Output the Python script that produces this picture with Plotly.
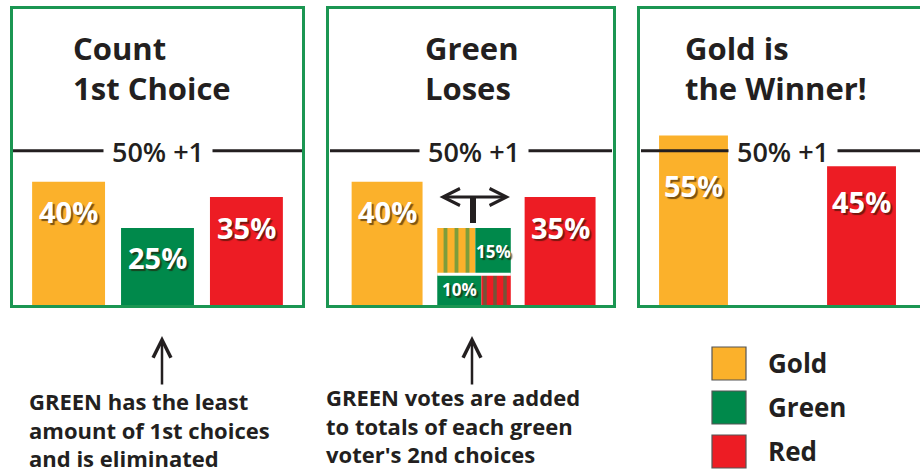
import plotly.graph_objects as go

W, H = 920, 472

# ---------------- data ----------------
parties = ["Gold", "Green", "Red"]
party_colors = ["#FBB12B", "#00894B", "#ED1C24"]
first_choice = [40, 25, 35]            # panel 1: Gold, Green, Red
round2_parties = ["Gold", "Red"]
round2_values = [40, 35]               # panel 2 (before transfer)
green_to_gold = 15                     # green votes whose 2nd choice is Gold
green_to_red = 10                      # green votes whose 2nd choice is Red
final_parties = ["Gold", "Red"]
final_values = [55, 45]                # panel 3
threshold = 50
threshold_label = "50% +1"
titles = ["Count<br>1st Choice", "Green<br>Loses", "Gold is<br>the Winner!"]
captions = ["GREEN has the least<br>amount of 1st choices<br>and is eliminated",
            "GREEN votes are added<br>to totals of each green<br>voter's 2nd choices"]

# ---------------- style ----------------
DARK = "#231F20"
BORDER = "#1B9652"
FONT = "Open Sans"
col = dict(zip(parties, party_colors))
pos = {p: i for i, p in enumerate(parties)}


def fx(px):
    return px / W


def fy(py):
    return 1 - py / H


BAR_W = 0.82
Y_RANGE = [0, 96]
ydom = [fy(305), fy(9)]
xdoms = [[fx(13), fx(302)], [fx(330), fx(612)], [fx(641), 1.0]]
xranges = [[-0.625, 2.625], [-0.66, 2.6], [-0.625, 2.696]]
label_xshift = [0, 0, 5]

fig = go.Figure()

# panel 1
fig.add_trace(go.Bar(x=[pos[p] for p in parties], y=first_choice,
                     marker=dict(color=[col[p] for p in parties], line=dict(width=0)),
                     width=BAR_W, xaxis="x", yaxis="y", showlegend=False, hoverinfo="skip"))
# panel 2
fig.add_trace(go.Bar(x=[pos[p] for p in round2_parties], y=round2_values,
                     marker=dict(color=[col[p] for p in round2_parties], line=dict(width=0)),
                     width=BAR_W, xaxis="x2", yaxis="y2", showlegend=False, hoverinfo="skip"))
gx = pos["Green"]
piece_left = -0.42
# bottom piece (green -> red): solid green left, red/green striped right
fig.add_trace(go.Bar(x=[gx], y=[green_to_red], base=[0], offset=piece_left, width=0.51,
                     marker=dict(color=col["Green"], line=dict(width=0)),
                     xaxis="x2", yaxis="y2", showlegend=False, hoverinfo="skip"))
fig.add_trace(go.Bar(x=[gx], y=[green_to_red], base=[0], offset=piece_left + 0.51, width=0.34,
                     marker=dict(color=col["Red"], line=dict(width=0),
                                 pattern=dict(shape="|", fgcolor=col["Green"], bgcolor=col["Red"],
                                              size=10, solidity=0.35)),
                     xaxis="x2", yaxis="y2", showlegend=False, hoverinfo="skip"))
# top piece (green -> gold): gold/green striped left, solid green right
fig.add_trace(go.Bar(x=[gx], y=[green_to_gold], base=[green_to_red], offset=piece_left, width=0.44,
                     marker=dict(color=col["Gold"], line=dict(width=0),
                                 pattern=dict(shape="|", fgcolor=col["Green"], bgcolor=col["Gold"],
                                              size=11, solidity=0.35)),
                     xaxis="x2", yaxis="y2", showlegend=False, hoverinfo="skip"))
fig.add_trace(go.Bar(x=[gx], y=[green_to_gold], base=[green_to_red], offset=piece_left + 0.44, width=0.41,
                     marker=dict(color=col["Green"], line=dict(width=0)),
                     xaxis="x2", yaxis="y2", showlegend=False, hoverinfo="skip"))
# panel 3
fig.add_trace(go.Bar(x=[pos[p] for p in final_parties], y=final_values,
                     marker=dict(color=[col[p] for p in final_parties], line=dict(width=0)),
                     width=BAR_W, xaxis="x3", yaxis="y3", showlegend=False, hoverinfo="skip"))

shapes = []
annotations = []
shadow = "2px 2px 1px rgba(40,20,0,0.6)"

title_left = [71, 423, 683]
for i in range(3):
    sx = "" if i == 0 else str(i + 1)
    # threshold line
    shapes.append(dict(type="line", xref=f"x{sx} domain", yref=f"y{sx}", x0=0, x1=1,
                       y0=threshold, y1=threshold, line=dict(color=DARK, width=3), layer="above"))
    annotations.append(dict(xref=f"x{sx}", yref=f"y{sx}", x=1, y=threshold, xshift=label_xshift[i],
                            text=threshold_label, showarrow=False, bgcolor="white", borderpad=0,
                            width=108, height=26, align="center", valign="middle",
                            font=dict(family=FONT, size=27, color=DARK, weight=600)))
    # title
    annotations.append(dict(xref="paper", yref="paper", x=fx(title_left[i]), y=fy(25),
                            xanchor="left", yanchor="top", align="left", text=titles[i],
                            showarrow=False,
                            font=dict(family=FONT, size=31, color=DARK, weight="bold")))


# bar value labels
def bar_label(ax, x, v, size=29, shift=-30):
    y = min(v, threshold)
    annotations.append(dict(xref=f"x{ax}", yref=f"y{ax}", x=x, y=y, yshift=shift, text=f"{v}%",
                            showarrow=False, yanchor="middle",
                            font=dict(family=FONT, size=size, color="white", weight="bold", shadow=shadow)))


for p, v in zip(parties, first_choice):
    bar_label("", pos[p], v)
for p, v in zip(round2_parties, round2_values):
    bar_label("2", pos[p], v)
for p, v in zip(final_parties, final_values):
    bar_label("3", pos[p], v, shift=-35)

annotations.append(dict(xref="x2", yref="y2", x=gx + piece_left + 0.44 + 0.41 / 2,
                        y=green_to_red + green_to_gold / 2, text=f"{green_to_gold}%", showarrow=False,
                        font=dict(family=FONT, size=17, color="white", weight="bold", shadow=shadow)))
annotations.append(dict(xref="x2", yref="y2", x=gx + piece_left + 0.51 / 2,
                        y=green_to_red / 2, text=f"{green_to_red}%", showarrow=False,
                        font=dict(family=FONT, size=17, color="white", weight="bold", shadow=shadow)))
# white gap between the two stacked green pieces
shapes.append(dict(type="line", xref="x2", yref="y2", x0=gx + piece_left, x1=gx + piece_left + 0.85,
                   y0=green_to_red, y1=green_to_red, line=dict(color="white", width=3), layer="above"))

# double arrow + stem in panel 2
annotations.append(dict(xref="paper", yref="paper", x=fx(510), y=fy(197), ax=-72, ay=0,
                        axref="pixel", ayref="pixel", showarrow=True, text="",
                        arrowhead=5, startarrowhead=5, arrowside="end+start",
                        arrowwidth=3, arrowsize=1.1, startarrowsize=1.1, arrowcolor=DARK))
shapes.append(dict(type="line", xref="paper", yref="paper", x0=fx(473), x1=fx(473),
                   y0=fy(196), y1=fy(223), line=dict(color=DARK, width=6)))

# panel borders
for x0, x1 in [(11.5, 303.5), (327.5, 614.5), (638.5, 930)]:
    shapes.append(dict(type="rect", xref="paper", yref="paper", x0=fx(x0), x1=fx(x1),
                       y0=fy(306.5), y1=fy(7.5), line=dict(color=BORDER, width=3), layer="below"))

# bottom arrows and captions
for ax_px in [162, 472]:
    annotations.append(dict(xref="paper", yref="paper", x=fx(ax_px), y=fy(336), ax=0, ay=50,
                            axref="pixel", ayref="pixel", showarrow=True, text="",
                            arrowhead=5, arrowwidth=2.5, arrowsize=1.4, arrowcolor=DARK))
for cx, cy, cap in zip([27, 324], [384, 380], captions):
    annotations.append(dict(xref="paper", yref="paper", x=fx(cx), y=fy(cy),
                            xanchor="left", yanchor="top", align="left", text=cap,
                            showarrow=False,
                            font=dict(family=FONT, size=22, color=DARK, weight="bold")))

# legend (drawn manually: big swatches)
for k, p in enumerate(parties):
    top = 347 + k * 44
    shapes.append(dict(type="rect", xref="paper", yref="paper", x0=fx(712), x1=fx(746),
                       y0=fy(top + 33), y1=fy(top), fillcolor=col[p],
                       line=dict(color="#555555", width=1.2)))
    annotations.append(dict(xref="paper", yref="paper", x=fx(766), y=fy(top + 16), xanchor="left",
                            yanchor="middle", text=p, showarrow=False,
                            font=dict(family=FONT, size=26, color=DARK, weight="bold")))

layout = dict(width=W, height=H, margin=dict(l=0, r=0, t=0, b=0), paper_bgcolor="white",
              plot_bgcolor="rgba(0,0,0,0)", barmode="overlay", showlegend=False,
              shapes=shapes, annotations=annotations)
for i in range(3):
    sx = "" if i == 0 else str(i + 1)
    layout[f"xaxis{sx}"] = dict(domain=xdoms[i], range=xranges[i], anchor=f"y{sx}", visible=False,
                                fixedrange=True)
    layout[f"yaxis{sx}"] = dict(domain=ydom, range=Y_RANGE, anchor=f"x{sx}", visible=False,
                                fixedrange=True)
fig.update_layout(**layout)
fig.write_html("out.html", config={"displayModeBar": False})
